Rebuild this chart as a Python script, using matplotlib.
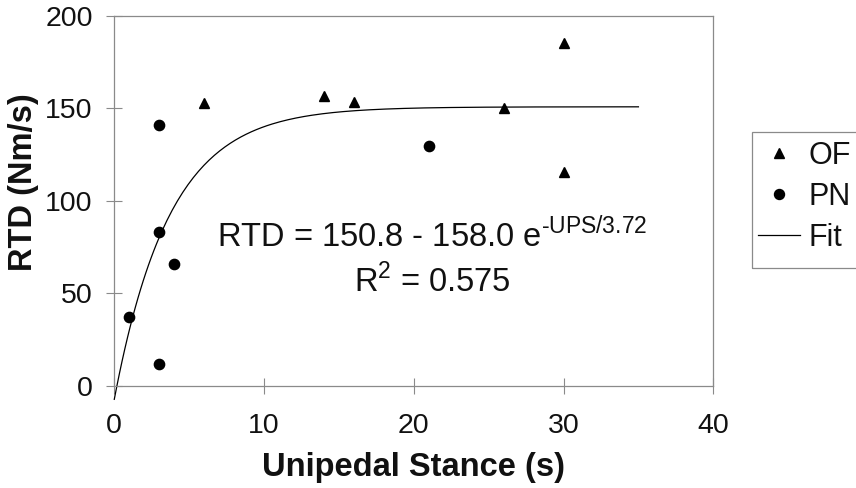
import numpy as np
import matplotlib
matplotlib.use("Agg")
import matplotlib.pyplot as plt
from matplotlib.lines import Line2D
from matplotlib.patches import Rectangle

plt.rcParams['font.family'] = ['Liberation Sans', 'DejaVu Sans']
plt.rcParams['mathtext.fontset'] = 'custom'
plt.rcParams['mathtext.rm'] = 'Liberation Sans'

# OF group (triangles)
of_x = [6, 14, 16, 26, 30, 30]
of_y = [152.7, 156.5, 153.4, 150.4, 185.5, 115.6]

# PN group (circles)
pn_x = [1, 3, 3, 3, 4, 21]
pn_y = [37.4, 141.2, 83.1, 11.7, 65.8, 129.7]

# fit parameters as printed on the chart
fit_a = 150.8
fit_b = 158.0
fit_tau = 3.72
fit_xmax = 35

x_ticks = [0, 10, 20, 30, 40]
y_ticks = [0, 50, 100, 150, 200]
legend_labels = ['OF', 'PN', 'Fit']

grey = '#8a8a8a'
ink = '#111111'

fig = plt.figure(figsize=(8.56, 4.88), dpi=100)
ax = fig.add_axes([0.1335, 0.209, 0.6998, 0.7588])

fx = np.linspace(0, fit_xmax, 200)
fy = fit_a - fit_b * np.exp(-fx / fit_tau)
ax.plot(fx, fy, color='black', lw=0.9, clip_on=False, zorder=2)

ax.plot(of_x, of_y, linestyle='none', marker='^', ms=7.6, color='black', zorder=3)
ax.plot(pn_x, pn_y, linestyle='none', marker='o', ms=7.4, color='black', zorder=3)

ax.set_xlim(0, 40)
ax.set_ylim(0, 200)
ax.set_xticks(x_ticks)
ax.set_yticks(y_ticks)
ax.tick_params(direction='inout', length=11, width=0.8, color=grey,
               labelsize=20.5, labelcolor=ink)
ax.tick_params(axis='x', pad=14)
ax.tick_params(axis='y', pad=10)
for s in ax.spines.values():
    s.set_color(grey)
    s.set_linewidth(0.9)

ax.set_xlabel('Unipedal Stance (s)', fontsize=23.5, fontweight='bold',
              labelpad=9, color=ink)
ax.set_ylabel('RTD (Nm/s)', fontsize=23.5, fontweight='bold', color=ink)
ax.yaxis.set_label_coords(-0.126, 0.55)

ax.text(21.2, 75.2, 'RTD = 150.8 - 158.0 e$^{\\mathregular{\u2010UPS/3.72}}$',
        ha='center', va='baseline', fontsize=23.5, color=ink)
ax.text(21.2, 50.5, 'R$^{\\mathregular{2}}$ = 0.575',
        ha='center', va='baseline', fontsize=23.5, color=ink)

# legend box runs past the right edge of the picture
fig.add_artist(Rectangle((752 / 856, 1 - 268 / 488), 130 / 856, 136.3 / 488,
                         transform=fig.transFigure, fill=False,
                         edgecolor=grey, lw=0.9, clip_on=False))

handles = [
    Line2D([], [], linestyle='none', marker='^', ms=7, color='black'),
    Line2D([], [], linestyle='none', marker='o', ms=7.2, color='black'),
    Line2D([], [], color='black', lw=0.9),
]
fig.legend(handles, legend_labels, loc='upper left',
           bbox_to_anchor=(758 / 856, 1 - 140.7 / 488),
           bbox_transform=fig.transFigure, fontsize=22, frameon=False,
           handlelength=1.38, handletextpad=0.27, labelspacing=0.36,
           borderpad=0, borderaxespad=0, labelcolor=ink)

fig.savefig('out.png', dpi=100)
